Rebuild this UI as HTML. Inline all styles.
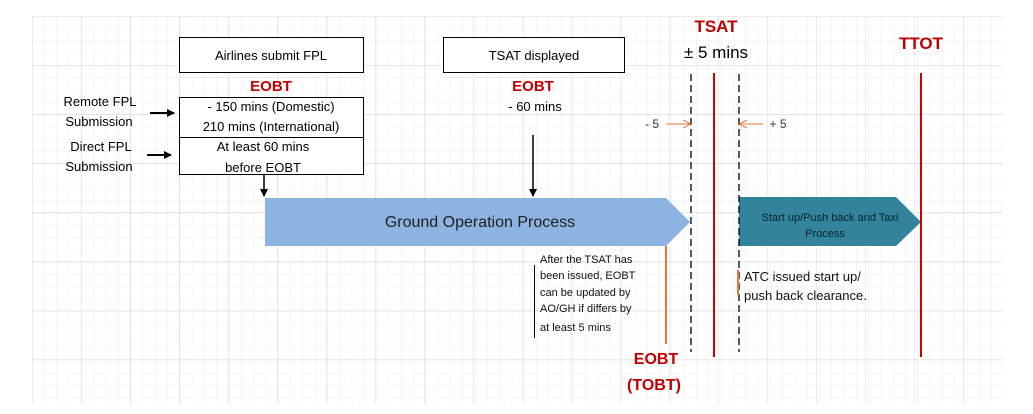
<!DOCTYPE html>
<html><head><meta charset="utf-8"><style>
html,body{margin:0;padding:0;background:#fff;width:1033px;height:414px;overflow:hidden}
svg{display:block;font-family:"Liberation Sans",sans-serif}
</style></head><body>
<svg width="1033" height="414" viewBox="0 0 1033 414" xmlns="http://www.w3.org/2000/svg">
<defs>
<pattern id="g" x="32" y="16" width="12.3" height="12.3" patternUnits="userSpaceOnUse">
<path d="M0 0H12.3M0 0V12.3" stroke="#ebebeb" stroke-width="1" fill="none"/>
</pattern>
<pattern id="G" x="32" y="16" width="49" height="49" patternUnits="userSpaceOnUse">
<path d="M0 0H49M0 0V49" stroke="#dadada" stroke-width="1" fill="none"/>
</pattern>
<marker id="ab" markerWidth="8" markerHeight="8" refX="7" refY="4" orient="auto" markerUnits="userSpaceOnUse"><path d="M0 0L8 4L0 8z" fill="#000"/></marker>
<marker id="ao" markerWidth="8" markerHeight="8" refX="7" refY="4" orient="auto" markerUnits="userSpaceOnUse"><path d="M0 0L8 4L0 8" fill="none" stroke="#e07b39"/></marker>
</defs>
<rect x="32" y="16" width="971" height="388" fill="url(#g)"/>
<rect x="32" y="16" width="971" height="388" fill="url(#G)"/>

<rect x="179.5" y="37.5" width="184" height="35" fill="#fff" stroke="#000"/>
<text x="271" y="60" font-size="13" text-anchor="middle">Airlines submit FPL</text>
<text x="271" y="91" font-size="15" font-weight="bold" fill="#c00000" text-anchor="middle">EOBT</text>
<rect x="179.5" y="97.5" width="184" height="77" fill="#fff" stroke="#000"/>
<line x1="179" y1="137.5" x2="364" y2="137.5" stroke="#000"/>
<text x="271" y="111" font-size="13" text-anchor="middle">- 150 mins (Domestic)</text>
<text x="271" y="131" font-size="13" text-anchor="middle">210 mins (International)</text>
<text x="263" y="151" font-size="13" text-anchor="middle">At least 60 mins</text>
<text x="263" y="172" font-size="13" text-anchor="middle">before EOBT</text>
<text x="100" y="106" font-size="13" text-anchor="middle">Remote FPL</text>
<text x="99" y="126" font-size="13" text-anchor="middle">Submission</text>
<text x="101" y="151" font-size="13" text-anchor="middle">Direct FPL</text>
<text x="99" y="171" font-size="13" text-anchor="middle">Submission</text>
<line x1="150" y1="113" x2="174" y2="113" stroke="#000" stroke-width="2" marker-end="url(#ab)"/>
<line x1="147" y1="155" x2="171" y2="155" stroke="#000" stroke-width="2" marker-end="url(#ab)"/>
<line x1="264" y1="175" x2="264" y2="196" stroke="#000" stroke-width="1.5" marker-end="url(#ab)"/>

<rect x="443.5" y="37.5" width="181" height="35" fill="#fff" stroke="#000"/>
<text x="534" y="60" font-size="13" text-anchor="middle">TSAT displayed</text>
<text x="533" y="91" font-size="15" font-weight="bold" fill="#c00000" text-anchor="middle">EOBT</text>
<text x="535" y="111" font-size="13" text-anchor="middle">- 60 mins</text>
<line x1="533" y1="135" x2="533" y2="196" stroke="#000" stroke-width="1.5" marker-end="url(#ab)"/>

<path d="M265 198H666L690 222L666 246H265Z" fill="#8db3e2"/>
<text x="480" y="227" font-size="16" fill="#1f1f1f" text-anchor="middle">Ground Operation Process</text>

<path d="M739 197H896L921 222L896 246H739Z" fill="#31849b"/>
<text x="830" y="221" font-size="11" fill="#0a2229" text-anchor="middle">Start up/Push back and Taxi</text>
<text x="825" y="237" font-size="11" fill="#0a2229" text-anchor="middle">Process</text>

<text x="716" y="32" font-size="17" font-weight="bold" fill="#c00000" text-anchor="middle">TSAT</text>
<text x="716" y="58" font-size="17" text-anchor="middle">± 5 mins</text>
<text x="921" y="49" font-size="17" font-weight="bold" fill="#c00000" text-anchor="middle">TTOT</text>

<line x1="691" y1="74" x2="691" y2="352" stroke="#000" stroke-width="1.3" stroke-dasharray="7,4"/>
<line x1="739" y1="74" x2="739" y2="352" stroke="#000" stroke-width="1.3" stroke-dasharray="7,4"/>
<line x1="714" y1="73" x2="714" y2="357" stroke="#d00000" stroke-width="2"/>
<line x1="921" y1="73" x2="921" y2="357" stroke="#d00000" stroke-width="2"/>

<text x="652" y="128" font-size="12" fill="#333" text-anchor="middle">- 5</text>
<line x1="666" y1="124" x2="690" y2="124" stroke="#e07b39" marker-end="url(#ao)"/>
<line x1="763" y1="124" x2="740" y2="124" stroke="#e07b39" marker-end="url(#ao)"/>
<text x="778" y="128" font-size="12" fill="#333" text-anchor="middle">+ 5</text>

<line x1="666" y1="246" x2="666" y2="344" stroke="#e07b39" stroke-width="2"/>
<line x1="534.5" y1="265" x2="534.5" y2="338" stroke="#000" stroke-width="1"/>
<g font-size="11" fill="#111">
<text x="540" y="263">After the TSAT has</text>
<text x="540" y="279">been issued, EOBT</text>
<text x="540" y="296">can be updated by</text>
<text x="540" y="312">AO/GH if differs by</text>
<text x="540" y="331">at least 5 mins</text>
</g>
<text x="656" y="364" font-size="16" font-weight="bold" fill="#c00000" text-anchor="middle">EOBT</text>
<text x="654" y="390" font-size="16" font-weight="bold" fill="#c00000" text-anchor="middle">(TOBT)</text>

<line x1="738" y1="270" x2="738" y2="295" stroke="#e07b39" stroke-width="2"/>
<text x="744" y="281" font-size="13" fill="#111">ATC issued start up/</text>
<text x="744" y="300" font-size="13" fill="#111">push back clearance.</text>
</svg>
</body></html>
